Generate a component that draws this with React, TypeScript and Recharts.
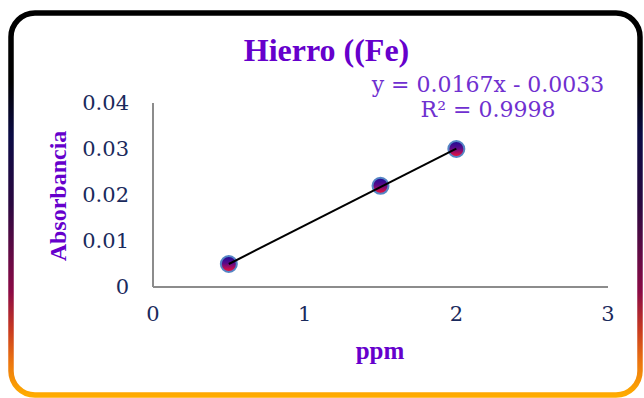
import React from "react";
import { ScatterChart, Scatter, XAxis, YAxis } from "recharts";

const ppmValues = [0.5, 1.5, 2];
const absorbanceValues = [0.005, 0.022, 0.03];
const trendX = [0.5, 2];
const trendY = [0.005, 0.0301];
const xTicks = [0, 1, 2, 3];
const yTicks = [0, 0.01, 0.02, 0.03, 0.04];
const titleText = "Hierro ((Fe)";
const equationText = "y = 0.0167x - 0.0033";
const r2Text = "R² = 0.9998";
const xLabel = "ppm";
const yLabel = "Absorbancia";

const points = ppmValues.map((x, i) => ({ x, y: absorbanceValues[i] }));
const trend = trendX.map((x, i) => ({ x, y: trendY[i] }));

const tickStyle = { fontFamily: "'DejaVu Serif', serif", fontSize: 21, fill: "#1a2a5c" };

const Dot = (props: any) => (
  <circle cx={props.cx} cy={props.cy} r={8} fill="url(#ptGrad)" stroke="#5585c5" strokeWidth={2} />
);
const NoDot = () => <g />;

export default function App() {
  return (
    <div style={{ position: "absolute", left: 0, top: 0, width: 644, height: 398, background: "#fff" }}>
      <ScatterChart width={644} height={398} margin={{ top: 103, right: 36, left: 0, bottom: 61 }}>
        <defs>
          <linearGradient id="ptGrad" x1="0" y1="0" x2="0" y2="1">
            <stop offset="0%" stopColor="#1a0a95" />
            <stop offset="45%" stopColor="#5a0a8a" />
            <stop offset="100%" stopColor="#ff1030" />
          </linearGradient>
        </defs>
        <XAxis
          type="number"
          dataKey="x"
          domain={[0, 3]}
          ticks={xTicks}
          height={50}
          tickSize={0}
          tickMargin={19}
          tickLine={false}
          axisLine={{ stroke: "#8c8c8c", strokeWidth: 2 }}
          tick={tickStyle}
        />
        <YAxis
          type="number"
          dataKey="y"
          domain={[0, 0.04]}
          ticks={yTicks}
          width={153}
          tickSize={0}
          tickMargin={24}
          tickLine={false}
          axisLine={{ stroke: "#8c8c8c", strokeWidth: 2 }}
          tick={tickStyle}
        />
        <Scatter data={points} shape={Dot} isAnimationActive={false} />
        <Scatter
          data={trend}
          shape={NoDot}
          line={{ stroke: "#000", strokeWidth: 2 }}
          lineType="joint"
          isAnimationActive={false}
        />
      </ScatterChart>
      <svg width={644} height={398} style={{ position: "absolute", left: 0, top: 0, pointerEvents: "none" }}>
        <defs>
          <linearGradient id="borderGrad" x1="0" y1="0" x2="0" y2="1">
            <stop offset="0%" stopColor="#000000" />
            <stop offset="18%" stopColor="#000000" />
            <stop offset="32%" stopColor="#0b0b45" />
            <stop offset="50%" stopColor="#2a0840" />
            <stop offset="65%" stopColor="#6a0a45" />
            <stop offset="73%" stopColor="#8b0a45" />
            <stop offset="83%" stopColor="#c83a20" />
            <stop offset="91%" stopColor="#ea7210" />
            <stop offset="100%" stopColor="#ffab00" />
          </linearGradient>
        </defs>
        <rect x={11} y={13} width={629} height={382} rx={24} ry={24} fill="none" stroke="url(#borderGrad)" strokeWidth={5.5} />
        <text x={326.5} y={61} textAnchor="middle" fontFamily="'Liberation Serif', serif" fontWeight={600} fontSize={32} fill="#6600cc">
          {titleText}
        </text>
        <text x={488} y={92} textAnchor="middle" fontFamily="'DejaVu Serif', serif" fontSize={22} fill="#7030d0">
          {equationText}
        </text>
        <text x={488} y={117} textAnchor="middle" fontFamily="'DejaVu Serif', serif" fontSize={22} fill="#7030d0">
          {r2Text}
        </text>
        <text x={380} y={359} textAnchor="middle" fontFamily="'Liberation Serif', serif" fontWeight="bold" fontSize={25} fill="#6600cc">
          {xLabel}
        </text>
        <text x={66} y={196} textAnchor="middle" transform="rotate(-90 66 196)" fontFamily="'Liberation Serif', serif" fontWeight="bold" fontSize={24} fill="#6600cc">
          {yLabel}
        </text>
      </svg>
    </div>
  );
}
